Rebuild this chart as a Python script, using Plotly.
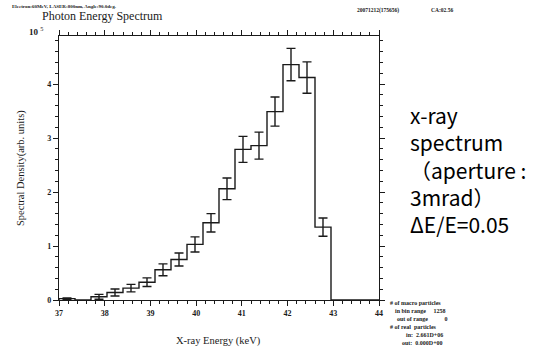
import plotly.graph_objects as go

# Histogram data (units of 10^5)
bin_edges = [37.0, 37.35, 37.7, 38.05, 38.4, 38.75, 39.1, 39.45, 39.8, 40.15, 40.5,
             40.85, 41.2, 41.55, 41.9, 42.25, 42.6, 42.95, 43.3, 43.65, 44.0]
bin_centers = [37.175, 37.525, 37.875, 38.225, 38.575, 38.925, 39.275, 39.625, 39.975, 40.325,
               40.675, 41.025, 41.375, 41.725, 42.075, 42.425, 42.775, 43.125, 43.475, 43.825]
values = [0.025, 0.0, 0.06, 0.14, 0.22, 0.33, 0.56, 0.75, 1.03, 1.43,
          2.06, 2.79, 2.86, 3.49, 4.36, 4.12, 1.35, 0.0, 0.0, 0.0]
errors = [0.015, 0.0, 0.045, 0.065, 0.07, 0.08, 0.11, 0.12, 0.14, 0.17,
          0.20, 0.24, 0.25, 0.27, 0.30, 0.29, 0.17, 0.0, 0.0, 0.0]
x_ticks = [37, 38, 39, 40, 41, 42, 43, 44]
y_ticks = [0, 1, 2, 3, 4]

INK = "#1a1a1a"
SERIF = "Liberation Serif"

fig = go.Figure()

# step outline
step_x = list(bin_edges)
step_y = list(values) + [values[-1]]
fig.add_trace(go.Scatter(x=[bin_edges[0]] + step_x, y=[0] + step_y, mode="lines",
                         line=dict(shape="hv", color=INK, width=1.4),
                         hoverinfo="skip", showlegend=False))

# error bars
ex = [c for c, v in zip(bin_centers, values) if v > 0]
ey = [v for v in values if v > 0]
ee = [e for e, v in zip(errors, values) if v > 0]
fig.add_trace(go.Scatter(x=ex, y=ey, mode="markers", marker=dict(size=1, color=INK, opacity=0),
                         error_y=dict(type="data", array=ee, visible=True, color=INK,
                                      thickness=1.4, width=4.5),
                         hoverinfo="skip", showlegend=False))

axis_common = dict(showline=True, linecolor=INK, linewidth=1.4, mirror="allticks",
                   ticks="outside", ticklen=5, tickwidth=1.2, tickcolor=INK,
                   showgrid=False, zeroline=False,
                   tickfont=dict(family=SERIF, size=8, color=INK, weight="bold"))

fig.update_xaxes(range=[37, 44], tickvals=x_ticks, ticktext=[str(t) for t in x_ticks],
                 minor=dict(dtick=0.2, ticks="outside", ticklen=3, tickcolor=INK, tickwidth=1),
                 **axis_common)
fig.update_yaxes(range=[0, 4.89], tickvals=y_ticks, ticktext=[str(t) for t in y_ticks],
                 minor=dict(dtick=0.2, ticks="outside", ticklen=3, tickcolor=INK, tickwidth=1),
                 **axis_common)

anns = [
    dict(x=10, y=7, text="<b>Electron:60MeV, LASER:800nm, Angle:90.0deg.</b>",
         font=dict(family=SERIF, size=5, color=INK), xanchor="left"),
    dict(x=40, y=16, text="Photon Energy Spectrum",
         font=dict(family=SERIF, size=12, color=INK), xanchor="left"),
    dict(x=355, y=10, text="<b>20071212(175656)</b>",
         font=dict(family=SERIF, size=5.5, color=INK), xanchor="left"),
    dict(x=429, y=10, text="<b>CA:02.56</b>",
         font=dict(family=SERIF, size=5.5, color=INK), xanchor="left"),
    dict(x=27, y=31, text="<b>10</b> <sup>5</sup>",
         font=dict(family=SERIF, size=9, color=INK), xanchor="left"),
    dict(x=218, y=341, text="X-ray Energy (keV)",
         font=dict(family=SERIF, size=10.5, color=INK), xanchor="center"),
    dict(x=21, y=168, text="Spectral Density(arb. units)", textangle=-90,
         font=dict(family=SERIF, size=10.5, color=INK), xanchor="center"),
    dict(x=408, y=169,
         text="x-ray<br>spectrum<br>（aperture :<br>3mrad）<br>ΔE/E=0.05",
         font=dict(family="Noto Sans CJK JP", size=21, color="#000"),
         xanchor="left", align="left"),
]
small_lines = [
    ("# of macro particles", 388, 303),
    ("in bin range     1258", 393, 311),
    ("out of range           0", 395, 319),
    ("# of real  particles", 388, 327),
    ("in:  2.661D+06", 404, 335),
    ("out:  0.000D+00", 400, 343),
]
for t, x0, y0 in small_lines:
    anns.append(dict(x=x0, y=y0, text="<b>" + t + "</b>",
                     font=dict(family=SERIF, size=6, color=INK), xanchor="left"))

for a in anns:
    a.update(xref="paper", yref="paper", showarrow=False, yanchor="middle")
    a["x"] = (a["x"] - 59) / (379 - 59)
    a["y"] = (300 - a["y"]) / (300 - 36)

fig.update_layout(width=533, height=350, margin=dict(l=59, r=154, t=36, b=50),
                  paper_bgcolor="white", plot_bgcolor="white",
                  annotations=anns, showlegend=False)

fig.write_html("out.html", config={"displayModeBar": False},
               post_script="document.body.style.margin='0';")
